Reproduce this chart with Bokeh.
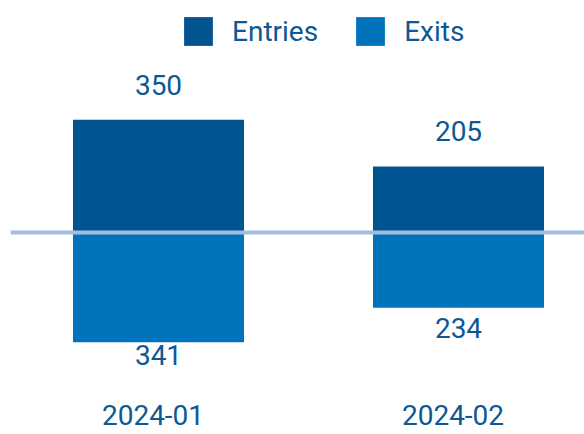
from bokeh.plotting import figure
from bokeh.models import ColumnDataSource, Span, Legend, LegendItem, FixedTicker
from bokeh.transform import dodge
from bokeh.core.properties import value
from bokeh.embed import file_html
from bokeh.resources import INLINE
import numpy as np

# ---- data ----
months = ["2024-01", "2024-02"]
entries = [350, 205]
exits = [341, 234]

# ---- style ----
ENTRY_COLOR = "#00548F"
EXIT_COLOR = "#0073BC"
TEXT_COLOR = "#0D5895"
ZERO_COLOR = "#A3BDE0"
FONT = "Roboto"
FS = "28px"

W, H = 584, 434
frame_top_px, frame_bot_px, zero_px = 8, 392, 232   # page coords
px_per_unit = 0.322
y_start = -(frame_bot_px - zero_px) / px_per_unit
y_end = (zero_px - frame_top_px) / px_per_unit

x_pos = np.arange(len(months), dtype=float)
x_px_per_unit = 300.0
x_start = (10 - 152.5) / x_px_per_unit
x_end = (584 - 152.5) / x_px_per_unit

ent = np.array(entries, dtype=float)
ext = np.array(exits, dtype=float)
label_floor = -(334.7 - zero_px) / px_per_unit

src = ColumnDataSource(dict(
    x=x_pos,
    entries=ent,
    exits_neg=-ext,
    entries_lbl=[str(v) for v in entries],
    exits_lbl=[str(v) for v in exits],
    exits_lbl_y=np.maximum(-ext, label_floor),
))

p = figure(width=W, height=H, output_backend="svg", toolbar_location=None,
           x_range=(x_start, x_end), y_range=(y_start, y_end),
           y_axis_location=None, min_border_left=10, min_border_right=0,
           min_border_top=frame_top_px, min_border_bottom=H - frame_bot_px)
p.outline_line_color = None
p.xgrid.visible = False
p.ygrid.visible = False

bw = 171 / x_px_per_unit
xd = dodge("x", 5.5 / x_px_per_unit, range=p.x_range)
r_ent = p.vbar(x=xd, top="entries", bottom=0, width=bw, source=src,
               fill_color=ENTRY_COLOR, line_color=None)
r_ext = p.vbar(x=xd, top=0, bottom="exits_neg", width=bw, source=src,
               fill_color=EXIT_COLOR, line_color=None)

p.add_layout(Span(location=0, dimension="width", line_color=ZERO_COLOR, line_width=4))

p.text(x=xd, y="entries", text="entries_lbl", source=src, text_align="center",
       text_baseline="alphabetic", y_offset=-35, text_color=TEXT_COLOR,
       text_font=value(FONT), text_font_size=FS)
p.text(x=xd, y="exits_lbl_y", text="exits_lbl", source=src, text_align="center",
       text_baseline="alphabetic", y_offset=20, text_color=TEXT_COLOR,
       text_font=value(FONT), text_font_size=FS)

ax = p.xaxis[0]
ax.ticker = FixedTicker(ticks=list(x_pos))
ax.major_label_overrides = {float(i): m for i, m in enumerate(months)}
ax.major_label_overrides.update({int(i): m for i, m in enumerate(months)})
ax.axis_line_color = None
ax.major_tick_line_color = None
ax.minor_tick_line_color = None
ax.major_tick_out = 0
ax.major_tick_in = 0
ax.major_label_standoff = 12
ax.major_label_text_font = FONT
ax.major_label_text_font_size = FS
ax.major_label_text_color = TEXT_COLOR

legend = Legend(items=[LegendItem(label="Entries", renderers=[r_ent]),
                       LegendItem(label="Exits", renderers=[r_ext])],
                orientation="horizontal", location=(170, 343),
                glyph_width=36, glyph_height=36, label_standoff=16, spacing=34,
                padding=0, margin=0, border_line_color=None,
                background_fill_alpha=0,
                label_text_font=FONT, label_text_font_size=FS,
                label_text_color=TEXT_COLOR)
p.add_layout(legend)

open("out.html", "w").write(file_html(p, INLINE))
